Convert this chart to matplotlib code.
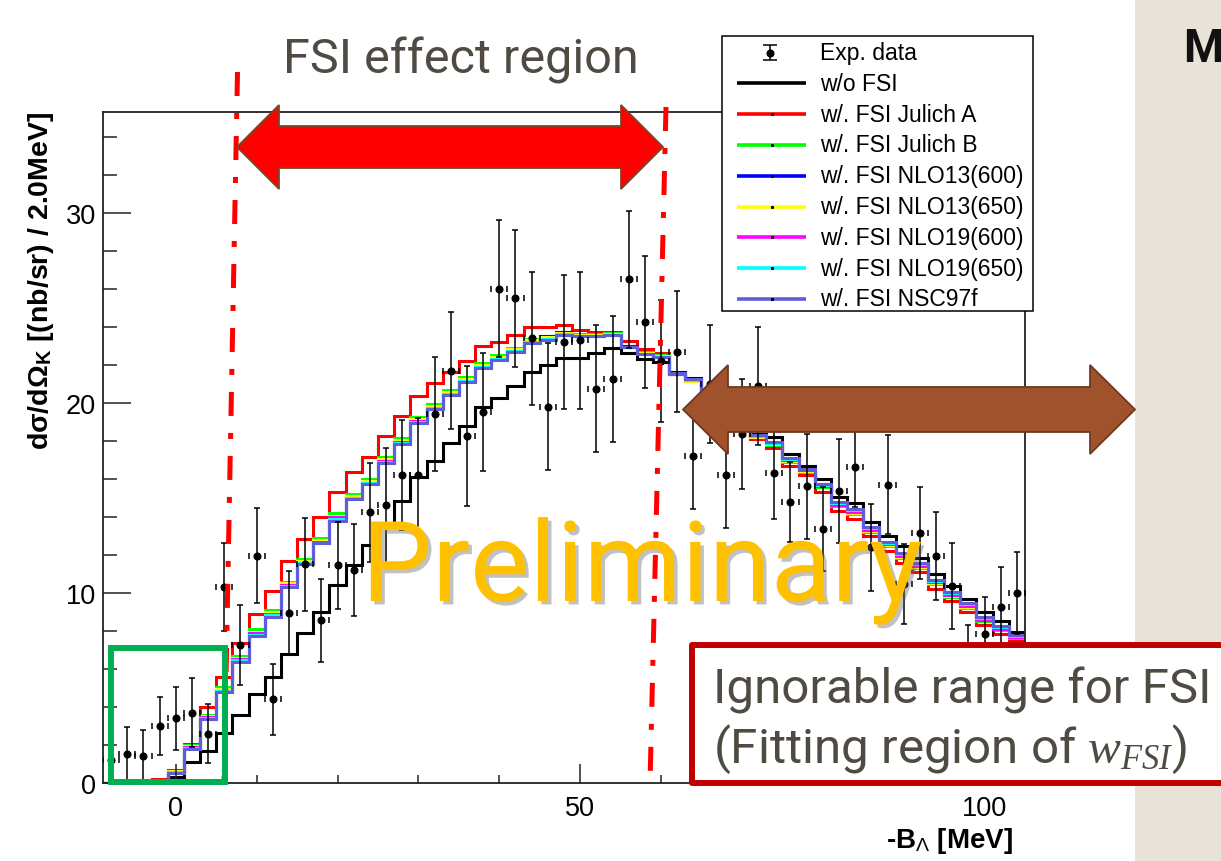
import numpy as np
import matplotlib
matplotlib.use("Agg")
import matplotlib.pyplot as plt
from matplotlib.patches import Polygon, Rectangle
import matplotlib.patheffects as pe

W, H = 1221, 862

# 2 MeV bins, centres at -8 ... 104
BIN_EDGES = np.arange(-9, 106, 2)
BIN_CENTERS = np.arange(-8, 105, 2)

# Experimental spectrum (nb/sr / 2 MeV) and its statistical errors
exp_y = [1.2, 1.55, 1.4, 3.0, 3.4, 3.7, 2.6, 10.3, 7.25, 11.95,
         4.4, 8.95, 11.5, 8.55, 11.45, 11.2, 14.25, 14.6, 16.2, 16.2,
         19.4, 21.7, 18.25, 19.5, 26.0, 25.5, 23.4, 19.8, 23.2, 23.3,
         20.75, 21.25, 26.5, 24.25, 22.2, 22.7, 17.2, 21.0, 16.2, 18.35,
         20.9, 16.3, 14.8, 15.6, 13.35, 15.35, 16.6, 12.4, 15.7, 10.45,
         13.15, 11.95, 10.35, 6.3, 7.85, 9.25, 10.0]
exp_err = [1.1, 1.4, 1.4, 1.55, 1.65, 1.8, 1.55, 2.3, 2.1, 2.5,
           1.85, 2.2, 2.45, 2.2, 2.3, 2.4, 2.6, 3.0, 2.9, 3.0,
           3.0, 3.1, 3.7, 3.1, 3.6, 3.6, 3.5, 3.35, 3.5, 3.6,
           3.35, 3.3, 3.6, 3.45, 3.2, 3.2, 2.8, 3.1, 2.8, 2.9,
           3.1, 2.4, 2.1, 2.75, 2.2, 2.75, 2.1, 2.3, 2.6, 2.1,
           2.4, 2.3, 2.25, 2.0, 1.95, 2.1, 2.15]

# Calculated spectra
wo_fsi = [0, 0, 0, 0.05, 0.3, 1.1, 1.7, 2.65, 3.6, 4.7,
          5.6, 6.8, 7.9, 9.0, 10.4, 11.45, 12.5, 13.55, 14.85, 16.1,
          16.95, 17.9, 18.8, 19.8, 20.25, 20.9, 21.6, 22.0, 22.35, 22.35,
          22.6, 22.9, 22.6, 22.3, 22.15, 21.6, 21.3, 20.6, 19.9, 19.1,
          18.35, 18.2, 17.3, 16.7, 16.0, 15.05, 14.75, 13.75, 13.0, 12.45,
          11.85, 11.0, 10.35, 9.7, 9.0, 8.5, 7.95]
julich_a = [0, 0, 0, 0.2, 0.7, 2.05, 4.0, 5.6, 7.35, 8.9,
            10.1, 11.7, 12.85, 14.0, 15.3, 16.35, 17.15, 18.25, 19.3, 20.35,
            21.05, 21.6, 22.2, 23.0, 23.2, 23.55, 24.0, 24.0, 24.1, 23.85,
            23.75, 23.75, 23.25, 22.85, 22.6, 21.5, 21.2, 20.3, 19.4, 18.6,
            18.1, 17.6, 16.7, 16.2, 15.3, 14.3, 13.9, 13.0, 12.2, 11.6,
            11.1, 10.2, 9.6, 9.0, 8.3, 7.85, 7.5]
julich_b = [0, 0, 0, 0.15, 0.65, 2.0, 3.6, 5.05, 6.7, 8.1,
            9.1, 10.6, 11.8, 12.9, 14.2, 15.2, 16.0, 17.15, 18.15, 19.25,
            19.95, 20.65, 21.35, 22.1, 22.5, 22.9, 23.35, 23.5, 23.7, 23.6,
            23.6, 23.65, 23.0, 22.65, 22.5, 21.5, 21.15, 20.4, 19.6, 18.8,
            18.2, 17.8, 16.9, 16.35, 15.55, 14.55, 14.15, 13.2, 12.45, 11.85,
            11.3, 10.45, 9.8, 9.2, 8.5, 8.05, 7.65]
nlo13_600 = [0, 0, 0, 0.1, 0.6, 1.9, 3.45, 4.9, 6.5, 7.85,
             8.9, 10.4, 11.6, 12.7, 13.95, 15.05, 15.85, 16.95, 17.95, 19.05,
             19.8, 20.5, 21.2, 21.95, 22.35, 22.8, 23.3, 23.5, 23.75, 23.55,
             23.55, 23.6, 23.0, 22.6, 22.45, 21.5, 21.2, 20.45, 19.7, 18.9,
             18.25, 17.9, 17.0, 16.45, 15.7, 14.7, 14.3, 13.35, 12.6, 12.0,
             11.45, 10.6, 9.95, 9.35, 8.65, 8.15, 7.75]
nlo13_650 = [0, 0, 0, 0.12, 0.62, 1.95, 3.5, 4.95, 6.6, 7.95,
             9.0, 10.5, 11.7, 12.8, 14.05, 15.1, 15.9, 17.05, 18.05, 19.15,
             19.85, 20.55, 21.25, 22.0, 22.4, 22.85, 23.3, 23.45, 23.65, 23.55,
             23.55, 23.6, 22.95, 22.6, 22.45, 21.5, 21.15, 20.4, 19.65, 18.85,
             18.2, 17.85, 16.95, 16.4, 15.6, 14.6, 14.2, 13.25, 12.5, 11.9,
             11.35, 10.5, 9.85, 9.25, 8.55, 8.1, 7.7]
nlo19_600 = [0, 0, 0, 0.1, 0.6, 1.9, 3.45, 4.85, 6.5, 7.9,
             8.9, 10.4, 11.6, 12.7, 14.0, 15.0, 15.8, 16.95, 17.95, 19.05,
             19.75, 20.45, 21.15, 21.9, 22.3, 22.75, 23.2, 23.35, 23.6, 23.5,
             23.5, 23.55, 22.95, 22.55, 22.4, 21.5, 21.2, 20.45, 19.7, 18.9,
             18.25, 17.9, 17.0, 16.45, 15.65, 14.65, 14.25, 13.3, 12.55, 11.95,
             11.4, 10.55, 9.9, 9.3, 8.6, 8.1, 7.7]
nlo19_650 = [0, 0, 0, 0.1, 0.58, 1.85, 3.4, 4.85, 6.45, 7.8,
             8.85, 10.35, 11.55, 12.65, 13.9, 15.0, 15.8, 16.9, 17.9, 19.0,
             19.75, 20.45, 21.15, 21.9, 22.3, 22.75, 23.2, 23.35, 23.6, 23.5,
             23.5, 23.55, 22.95, 22.55, 22.4, 21.55, 21.2, 20.45, 19.7, 18.95,
             18.25, 17.9, 17.05, 16.5, 15.7, 14.75, 14.35, 13.4, 12.65, 12.05,
             11.5, 10.65, 10.0, 9.4, 8.7, 8.2, 7.75]
nsc97f = [0, 0, 0, 0.1, 0.55, 1.8, 3.35, 4.8, 6.35, 7.75,
          8.75, 10.3, 11.5, 12.6, 13.8, 14.95, 15.75, 16.85, 17.85, 18.95,
          19.7, 20.4, 21.1, 21.85, 22.25, 22.7, 23.15, 23.3, 23.55, 23.5,
          23.5, 23.55, 22.95, 22.55, 22.4, 21.55, 21.25, 20.5, 19.75, 18.95,
          18.3, 17.95, 17.1, 16.5, 15.75, 14.8, 14.4, 13.45, 12.7, 12.1,
          11.55, 10.7, 10.05, 9.45, 8.75, 8.25, 7.8]

models = [
    ("w/o FSI", wo_fsi, "#000000"),
    ("w/. FSI Julich A", julich_a, "#ff0000"),
    ("w/. FSI Julich B", julich_b, "#00ff00"),
    ("w/. FSI NLO13(600)", nlo13_600, "#0000ff"),
    ("w/. FSI NLO13(650)", nlo13_650, "#ffff00"),
    ("w/. FSI NLO19(600)", nlo19_600, "#ff00ff"),
    ("w/. FSI NLO19(650)", nlo19_650, "#00ffff"),
    ("w/. FSI NSC97f", nsc97f, "#5e5edb"),
]

plt.rcParams["mathtext.fontset"] = "custom"
plt.rcParams["mathtext.rm"] = "Liberation Sans"
plt.rcParams["mathtext.bf"] = "Liberation Sans:bold"
plt.rcParams["mathtext.it"] = "Liberation Serif:italic"

SLIDE_TEXT = "#4f4a42"
ROOT_FONT = "Liberation Sans"
SLIDE_FONT = "Roboto"


def fx(x):
    return x / W


def fy(y):
    return 1 - y / H


def double_arrow(ax, x0, x1, yc, head_len, head_half, body_half, face, edge):
    pts = [(x0, yc), (x0 + head_len, yc - head_half),
           (x0 + head_len, yc - body_half), (x1 - head_len, yc - body_half),
           (x1 - head_len, yc - head_half), (x1, yc),
           (x1 - head_len, yc + head_half), (x1 - head_len, yc + body_half),
           (x0 + head_len, yc + body_half), (x0 + head_len, yc + head_half)]
    ax.add_patch(Polygon(pts, closed=True, fc=face, ec=edge, lw=1.3, zorder=6))


fig = plt.figure(figsize=(W / 100, H / 100), dpi=100, facecolor="#e8e2d8")
# white canvas of the ROOT picture
fig.add_artist(Rectangle((0, 0), fx(1135), 1, transform=fig.transFigure,
                         fc="white", ec="none", zorder=-5))

# ---- main histogram panel ----
ax = fig.add_axes([fx(103), fy(784), fx(1025) - fx(103), fy(113) - fy(784)])
ax.set_xlim(-9, 105)
ax.set_ylim(0, 35.3)

for name, vals, col in models:
    ax.stairs(vals, BIN_EDGES, baseline=None, color=col, lw=2.2)

ax.errorbar(BIN_CENTERS, exp_y, xerr=1.0, fmt="none", ecolor="black",
            elinewidth=0, capsize=2.5, capthick=1.1, zorder=4)
ax.errorbar(BIN_CENTERS, exp_y, yerr=exp_err, fmt="o", color="black",
            ms=4.8, ecolor="black", elinewidth=1.1, capsize=2.5,
            capthick=1.1, zorder=5)

ax.set_xticks([0, 50, 100])
ax.set_xticks(np.arange(10, 101, 10), minor=True)
ax.set_yticks([0, 10, 20, 30])
ax.set_yticks(np.arange(0, 35.3, 2), minor=True)
ax.tick_params(axis="both", which="both", direction="in", top=False,
               right=False, width=1.1, colors="#222222")
ax.tick_params(axis="x", which="major", length=13.7, pad=9)
ax.tick_params(axis="x", which="minor", length=5.8)
ax.tick_params(axis="y", which="major", length=20, pad=5)
ax.tick_params(axis="y", which="minor", length=10)
for lab in ax.get_xticklabels() + ax.get_yticklabels():
    lab.set_fontfamily(ROOT_FONT)
    lab.set_fontsize(19.5)
    lab.set_color("black")
for sp in ax.spines.values():
    sp.set_linewidth(1.3)
    sp.set_color("#222222")

fig.text(fx(41), fy(112), "dσ/dΩ$_{\\mathbf{K}}$ [(nb/sr) / 2.0MeV]",
         rotation=90, rotation_mode="anchor", ha="right", va="center",
         fontsize=20.5, fontweight="bold", family=ROOT_FONT)
fig.text(fx(1013), fy(848), "-B$_{\\Lambda}$ [MeV]", ha="right",
         va="baseline", fontsize=20, fontweight="bold", family=ROOT_FONT)

# ---- overlay in pixel coordinates: legend and slide annotations ----
ov = fig.add_axes([0, 0, 1, 1], facecolor="none")
ov.set_xlim(0, W)
ov.set_ylim(H, 0)
ov.axis("off")

# legend box
ov.add_patch(Rectangle((722, 37), 311, 275, fc="white", ec="black",
                       lw=1.1, zorder=2))
row_y = 53.5
ov.errorbar([770], [row_y], yerr=[[7.5]], fmt="o", color="black", ms=4.8,
            elinewidth=1.1, capsize=5, capthick=1.1, zorder=3)
ov.text(820, row_y, "Exp. data", fontsize=16.5, family=ROOT_FONT,
        va="center", ha="left", zorder=3)
for i, (name, vals, col) in enumerate(models):
    yy = row_y + 30.8 * (i + 1)
    ov.plot([737, 806], [yy, yy], color=col, lw=2.6, solid_capstyle="butt",
            zorder=3)
    if i > 0:
        ov.plot([771.5], [yy], "s", color="black", ms=1.2, zorder=3)
    ov.text(820, yy, name, fontsize=16.5, family=ROOT_FONT, va="center",
            ha="left", zorder=3)

# FSI boundary guides
dashdot = (0, (4.8, 3.4, 1.2, 3.4))
ov.plot([237.5, 224], [73, 785], color="#ff0000", lw=3.6, ls=dashdot,
        dash_capstyle="butt", zorder=5)
ov.plot([666, 650], [108, 785], color="#ff0000", lw=3.6, ls=dashdot,
        dash_capstyle="butt", zorder=5)

double_arrow(ov, 237, 663, 148, 42, 42, 21, "#ff0000", "#7a4628")
double_arrow(ov, 683, 1135, 410.5, 45, 44.5, 22.5, "#a0522d", "#6e3a1f")

ov.text(461, 73, "FSI effect region", fontsize=35, family=SLIDE_FONT,
        color=SLIDE_TEXT, ha="center", va="baseline", zorder=7)
ov.text(1183, 62, "M", fontsize=33, family=SLIDE_FONT, fontweight="bold",
        color="#111111", ha="left", va="baseline", zorder=7)

# fitting window and its caption
ov.add_patch(Rectangle((111, 649), 114, 134, fc="none", ec="#00b050",
                       lw=4.3, zorder=6))
ov.add_patch(Rectangle((692, 646), 600, 138, fc="white", ec="#c00000",
                       lw=4.3, joinstyle="round", zorder=6))
ov.text(713, 704, "Ignorable range for FSI", fontsize=35.5,
        family=SLIDE_FONT, color=SLIDE_TEXT, ha="left", va="baseline",
        zorder=7)
ov.text(713, 763, "(Fitting region of $w_{FSI}$)", fontsize=35.5,
        family=SLIDE_FONT, color=SLIDE_TEXT, ha="left", va="baseline",
        zorder=7)

ov.text(642, 602, "Preliminary", fontsize=80.5, family=SLIDE_FONT,
        color="#ffc000", ha="center", va="baseline", zorder=8,
        path_effects=[pe.withSimplePatchShadow(offset=(2.5, -2.5),
                                               shadow_rgbFace="#666666",
                                               alpha=0.4)])

fig.savefig("out.png", dpi=100, facecolor=fig.get_facecolor())
